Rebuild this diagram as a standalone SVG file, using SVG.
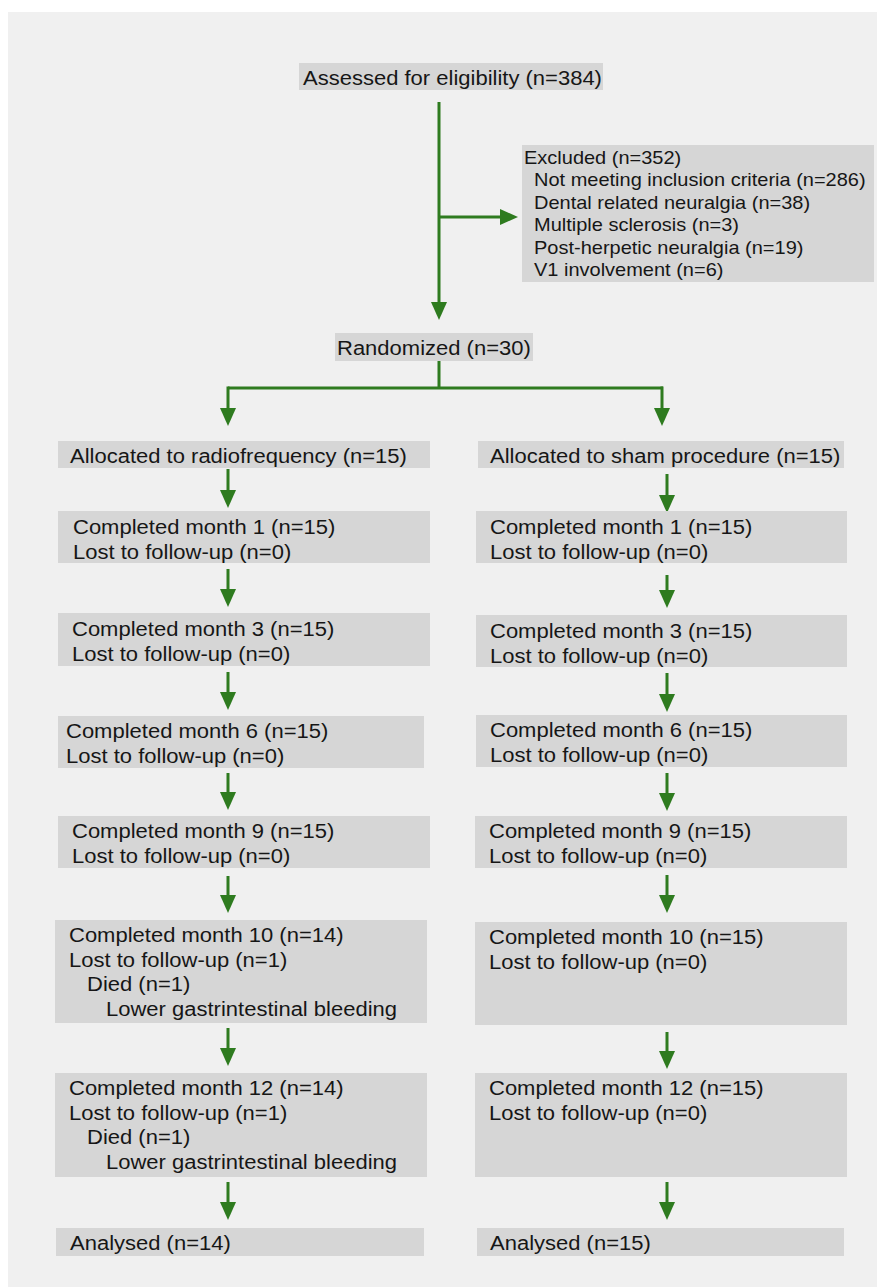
<svg xmlns="http://www.w3.org/2000/svg" width="881" height="1287" viewBox="0 0 881 1287">
<style>
.box{fill:#d6d6d6}
.t{font-family:"Liberation Sans",Arial,Helvetica,sans-serif;font-size:21px;fill:#161616}
.s{font-family:"Liberation Sans",Arial,Helvetica,sans-serif;font-size:19px;fill:#161616}
.c{stroke:#2e7b1f;stroke-width:3;fill:none}
</style>
<defs>
<marker id="ah" markerUnits="userSpaceOnUse" markerWidth="18" markerHeight="16" refX="8" refY="8" orient="auto" viewBox="0 0 18 16">
<path d="M0,0 L18,8 L0,16 z" fill="#2e7b1f"/>
</marker>
</defs>
<rect x="0" y="0" width="881" height="1287" fill="#ffffff"/>
<rect x="8" y="12" width="869" height="1275" fill="#f0f0f0"/>

<g id="connectors">
<path class="c" d="M439,102 V310" marker-end="url(#ah)"/>
<path class="c" d="M439,217 H508" marker-end="url(#ah)"/>
<path class="c" d="M439,361 V388 M228,388 H663"/>
<path class="c" d="M228,386.5 V416" marker-end="url(#ah)"/>
<path class="c" d="M662,386.5 V416" marker-end="url(#ah)"/>
<path class="c" d="M228,469 V498" marker-end="url(#ah)"/>
<path class="c" d="M228,569 V597" marker-end="url(#ah)"/>
<path class="c" d="M228,672 V700" marker-end="url(#ah)"/>
<path class="c" d="M228,773 V800" marker-end="url(#ah)"/>
<path class="c" d="M228,876 V903" marker-end="url(#ah)"/>
<path class="c" d="M228,1028 V1056" marker-end="url(#ah)"/>
<path class="c" d="M228,1182 V1210" marker-end="url(#ah)"/>
<path class="c" d="M667,474 V503" marker-end="url(#ah)"/>
<path class="c" d="M667,575 V598" marker-end="url(#ah)"/>
<path class="c" d="M667,673 V702" marker-end="url(#ah)"/>
<path class="c" d="M667,773 V801" marker-end="url(#ah)"/>
<path class="c" d="M667,875 V903" marker-end="url(#ah)"/>
<path class="c" d="M667,1032 V1059" marker-end="url(#ah)"/>
<path class="c" d="M667,1182 V1210" marker-end="url(#ah)"/>
</g>

<g id="assessed">
<rect class="box" x="299" y="63" width="304" height="27"/>
<text class="t" transform="translate(303,84.5) scale(1.048,1)">Assessed for eligibility (n=384)</text>
</g>

<g id="excluded">
<rect class="box" x="522" y="145" width="352" height="137"/>
<text class="s" transform="translate(524,163.5) scale(1.052,1)">Excluded (n=352)</text>
<text class="s" transform="translate(534,186) scale(1.052,1)">Not meeting inclusion criteria (n=286)</text>
<text class="s" transform="translate(534,208.5) scale(1.052,1)">Dental related neuralgia (n=38)</text>
<text class="s" transform="translate(534,231) scale(1.052,1)">Multiple sclerosis (n=3)</text>
<text class="s" transform="translate(534,253.5) scale(1.052,1)">Post-herpetic neuralgia (n=19)</text>
<text class="s" transform="translate(534,276) scale(1.052,1)">V1 involvement (n=6)</text>
</g>

<g id="randomized">
<rect class="box" x="335" y="333" width="198" height="28"/>
<text class="t" transform="translate(337,354.5) scale(1.048,1)">Randomized (n=30)</text>
</g>

<g id="alloc-rf">
<rect class="box" x="58" y="441" width="372" height="27"/>
<text class="t" transform="translate(70,462.5) scale(1.048,1)">Allocated to radiofrequency (n=15)</text>
</g>
<g id="alloc-sham">
<rect class="box" x="478" y="441" width="366" height="27"/>
<text class="t" transform="translate(490,462.5) scale(1.048,1)">Allocated to sham procedure (n=15)</text>
</g>

<g id="rf-m1">
<rect class="box" x="58" y="511" width="372" height="52"/>
<text class="t" transform="translate(73,534) scale(1.048,1)">Completed month 1 (n=15)</text>
<text class="t" transform="translate(73,558.5) scale(1.048,1)">Lost to follow-up (n=0)</text>
</g>
<g id="sham-m1">
<rect class="box" x="476" y="511" width="371" height="52"/>
<text class="t" transform="translate(490,534) scale(1.048,1)">Completed month 1 (n=15)</text>
<text class="t" transform="translate(490,558.5) scale(1.048,1)">Lost to follow-up (n=0)</text>
</g>

<g id="rf-m3">
<rect class="box" x="58" y="613" width="372" height="53"/>
<text class="t" transform="translate(72,636) scale(1.048,1)">Completed month 3 (n=15)</text>
<text class="t" transform="translate(72,660.5) scale(1.048,1)">Lost to follow-up (n=0)</text>
</g>
<g id="sham-m3">
<rect class="box" x="476" y="615" width="371" height="52"/>
<text class="t" transform="translate(490,638) scale(1.048,1)">Completed month 3 (n=15)</text>
<text class="t" transform="translate(490,662.5) scale(1.048,1)">Lost to follow-up (n=0)</text>
</g>

<g id="rf-m6">
<rect class="box" x="58" y="716" width="366" height="52"/>
<text class="t" transform="translate(66,738) scale(1.048,1)">Completed month 6 (n=15)</text>
<text class="t" transform="translate(66,762.5) scale(1.048,1)">Lost to follow-up (n=0)</text>
</g>
<g id="sham-m6">
<rect class="box" x="476" y="715" width="371" height="52"/>
<text class="t" transform="translate(490,737) scale(1.048,1)">Completed month 6 (n=15)</text>
<text class="t" transform="translate(490,761.5) scale(1.048,1)">Lost to follow-up (n=0)</text>
</g>

<g id="rf-m9">
<rect class="box" x="58" y="816" width="372" height="52"/>
<text class="t" transform="translate(72,838) scale(1.048,1)">Completed month 9 (n=15)</text>
<text class="t" transform="translate(72,862.5) scale(1.048,1)">Lost to follow-up (n=0)</text>
</g>
<g id="sham-m9">
<rect class="box" x="475" y="816" width="372" height="52"/>
<text class="t" transform="translate(489,838) scale(1.048,1)">Completed month 9 (n=15)</text>
<text class="t" transform="translate(489,862.5) scale(1.048,1)">Lost to follow-up (n=0)</text>
</g>

<g id="rf-m10">
<rect class="box" x="55" y="920" width="372" height="103"/>
<text class="t" transform="translate(69,942) scale(1.048,1)">Completed month 10 (n=14)</text>
<text class="t" transform="translate(69,966.5) scale(1.048,1)">Lost to follow-up (n=1)</text>
<text class="t" transform="translate(87,991) scale(1.048,1)">Died (n=1)</text>
<text class="t" transform="translate(106,1015.5) scale(1.048,1)">Lower gastrintestinal bleeding</text>
</g>
<g id="sham-m10">
<rect class="box" x="475" y="922" width="372" height="103"/>
<text class="t" transform="translate(489,944) scale(1.048,1)">Completed month 10 (n=15)</text>
<text class="t" transform="translate(489,968.5) scale(1.048,1)">Lost to follow-up (n=0)</text>
</g>

<g id="rf-m12">
<rect class="box" x="55" y="1073" width="372" height="104"/>
<text class="t" transform="translate(69,1095) scale(1.048,1)">Completed month 12 (n=14)</text>
<text class="t" transform="translate(69,1119.5) scale(1.048,1)">Lost to follow-up (n=1)</text>
<text class="t" transform="translate(87,1144) scale(1.048,1)">Died (n=1)</text>
<text class="t" transform="translate(106,1168.5) scale(1.048,1)">Lower gastrintestinal bleeding</text>
</g>
<g id="sham-m12">
<rect class="box" x="475" y="1073" width="372" height="104"/>
<text class="t" transform="translate(489,1095) scale(1.048,1)">Completed month 12 (n=15)</text>
<text class="t" transform="translate(489,1119.5) scale(1.048,1)">Lost to follow-up (n=0)</text>
</g>

<g id="rf-analysed">
<rect class="box" x="56" y="1228" width="368" height="28"/>
<text class="t" transform="translate(70,1249.5) scale(1.048,1)">Analysed (n=14)</text>
</g>
<g id="sham-analysed">
<rect class="box" x="477" y="1228" width="367" height="28"/>
<text class="t" transform="translate(490,1249.5) scale(1.048,1)">Analysed (n=15)</text>
</g>
</svg>
